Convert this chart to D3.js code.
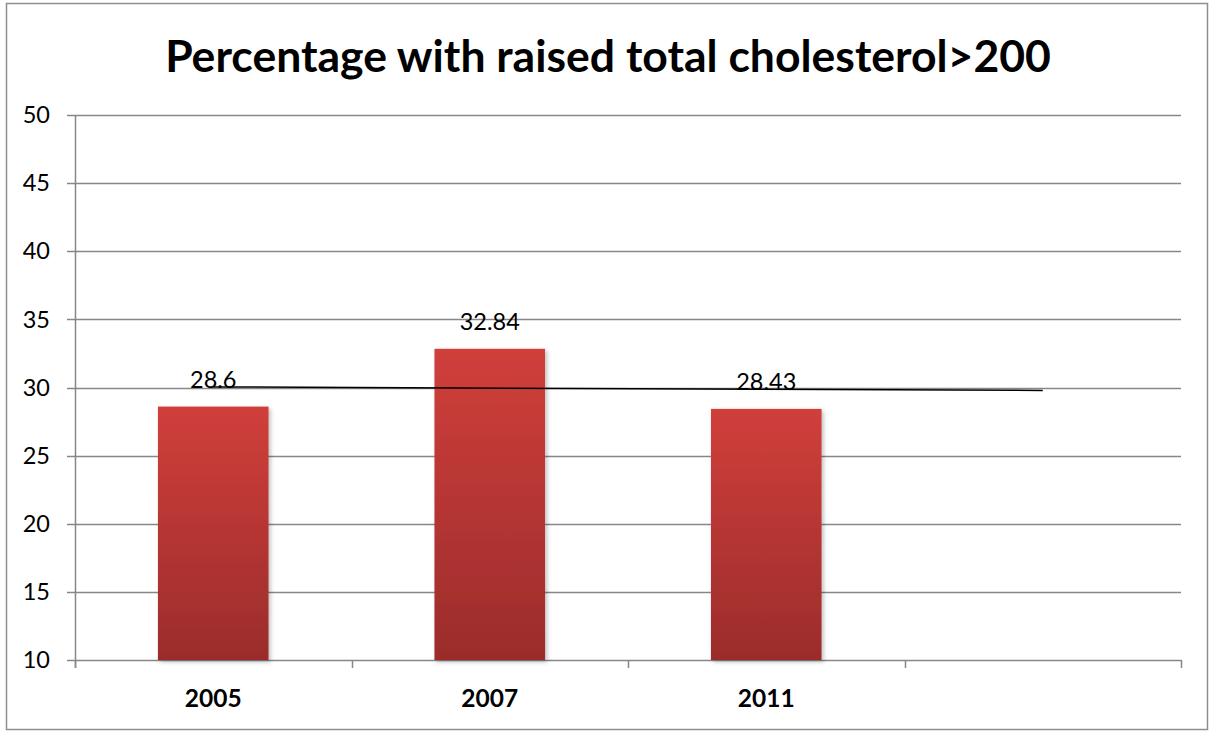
<!DOCTYPE html>
<html>
<head>
<meta charset="utf-8">
<script src="https://cdn.jsdelivr.net/npm/d3@7/dist/d3.min.js"></script>
<style>
  html, body { margin: 0; padding: 0; background: #fff; }
  svg { display: block; }
</style>
</head>
<body>
<svg id="chart" width="1209" height="731"></svg>
<script>
const categories = ["2005", "2007", "2011", ""];
const values = [28.6, 32.84, 28.43];
const valueLabels = ["28.6", "32.84", "28.43"];
const yTicks = [10, 15, 20, 25, 30, 35, 40, 45, 50];
const title = "Percentage with raised total cholesterol>200";

const svg = d3.select("#chart");
const W = 1209, H = 731;
const m = { left: 75, right: 1181, top: 115, bottom: 660 };
const font = "Lato, 'Open Sans', sans-serif";

svg.append("rect").attr("x", 6.5).attr("y", 3.5).attr("width", 1201).attr("height", 726)
  .attr("fill", "#fff").attr("stroke", "#8e8e8e").attr("stroke-width", 1.5);

const x = d3.scaleBand().domain(categories.map((c, i) => i)).range([m.left, m.right]).paddingInner(0).paddingOuter(0);
const y = d3.scaleLinear().domain([10, 50]).range([m.bottom, m.top]);

// gridlines
svg.append("g").selectAll("line").data(yTicks).join("line")
  .attr("x1", m.left - 8).attr("x2", m.right)
  .attr("y1", d => Math.round(y(d)) + 0.5).attr("y2", d => Math.round(y(d)) + 0.5)
  .attr("stroke", "#878787").attr("stroke-width", 1.5);

// y axis line
svg.append("line").attr("x1", m.left + 0.5).attr("x2", m.left + 0.5)
  .attr("y1", m.top).attr("y2", m.bottom + 8).attr("stroke", "#878787").attr("stroke-width", 1.5);

// x category ticks
const bounds = categories.map((c, i) => x(i)).concat([m.right]);
svg.append("g").selectAll("line").data(bounds).join("line")
  .attr("x1", d => Math.round(d) + 0.5).attr("x2", d => Math.round(d) + 0.5)
  .attr("y1", m.bottom).attr("y2", m.bottom + 8)
  .attr("stroke", "#878787").attr("stroke-width", 1.5);

// y tick labels
svg.append("g").selectAll("text").data(yTicks).join("text")
  .attr("x", 50).attr("y", d => y(d)).attr("dy", "0.35em")
  .attr("text-anchor", "end").attr("font-family", font).attr("font-size", 23.5)
  .attr("fill", "#000").text(d => d);

// gradient
const defs = svg.append("defs");
const grad = defs.append("linearGradient").attr("id", "barGrad").attr("x1", 0).attr("y1", 0).attr("x2", 0).attr("y2", 1);
grad.append("stop").attr("offset", "0%").attr("stop-color", "#d03f3b");
grad.append("stop").attr("offset", "100%").attr("stop-color", "#9b2c2b");
const filt = defs.append("filter").attr("id", "shadow").attr("x", "-10%").attr("y", "-10%").attr("width", "130%").attr("height", "130%");
filt.append("feDropShadow").attr("dx", 2).attr("dy", 2).attr("stdDeviation", 2).attr("flood-color", "#000").attr("flood-opacity", 0.25);

const barW = x.bandwidth() * 0.4;
svg.append("g").selectAll("rect").data(values).join("rect")
  .attr("x", (d, i) => x(i) + (x.bandwidth() - barW) / 2)
  .attr("y", d => y(d))
  .attr("width", barW)
  .attr("height", d => y(10) - y(d))
  .attr("fill", "url(#barGrad)")
  .attr("filter", "url(#shadow)");

// linear trendline (forecast one period forward)
const n = values.length;
const xs = values.map((d, i) => i + 1);
const mx = d3.mean(xs), my = d3.mean(values);
const slope = d3.sum(xs.map((xi, i) => (xi - mx) * (values[i] - my))) / d3.sum(xs.map(xi => (xi - mx) ** 2));
const icpt = my - slope * mx;
const cx = i => x(i) + x.bandwidth() / 2;
svg.append("line")
  .attr("x1", cx(0)).attr("x2", cx(n))
  .attr("y1", y(icpt + slope * 1)).attr("y2", y(icpt + slope * (n + 1)))
  .attr("stroke", "#000").attr("stroke-width", 1.5);

// value labels
svg.append("g").selectAll("text").data(values).join("text")
  .attr("x", (d, i) => cx(i)).attr("y", d => y(d) - 19)
  .attr("text-anchor", "middle").attr("font-family", font).attr("font-size", 23.5)
  .attr("fill", "#000").text((d, i) => valueLabels[i]);

// category labels
svg.append("g").selectAll("text").data(categories).join("text")
  .attr("x", (d, i) => cx(i)).attr("y", 707)
  .attr("text-anchor", "middle").attr("font-family", font).attr("font-size", 24.5).attr("font-weight", "bold")
  .attr("fill", "#000").text(d => d);

// title
svg.append("text").attr("x", 608).attr("y", 72)
  .attr("text-anchor", "middle").attr("font-family", font).attr("font-size", 44.5).attr("font-weight", "bold")
  .attr("fill", "#000").text(title);
</script>
</body>
</html>
